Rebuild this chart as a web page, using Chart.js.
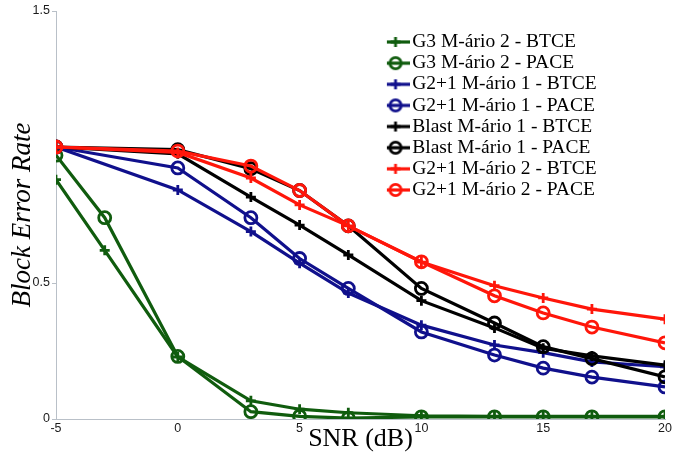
<!DOCTYPE html>
<html>
<head>
<meta charset="utf-8">
<script src="https://cdn.jsdelivr.net/npm/chart.js@4/dist/chart.umd.min.js"></script>
<style>
  html, body { margin: 0; padding: 0; background: #ffffff; }
  #wrap { width: 676px; height: 459px; }
</style>
</head>
<body>
<div id="wrap"><canvas id="c" width="676" height="459"></canvas></div>
<script>
// ---- Data ----
const snrG3 = [-5, -3, 0, 3, 5, 7, 10, 13, 15, 17, 20];
const snrOther = [-5, 0, 3, 5, 7, 10, 13, 15, 17, 20];

const g3M2Btce   = [0.88, 0.62, 0.228, 0.067, 0.036, 0.023, 0.012, 0.010, 0.010, 0.010, 0.010];
const g3M2Pace   = [0.97, 0.74, 0.230, 0.027, 0.010, 0.003, 0.008, 0.008, 0.008, 0.008, 0.008];
const g21M1Btce  = [1.0, 0.842, 0.689, 0.573, 0.463, 0.345, 0.272, 0.244, 0.210, 0.192];
const g21M1Pace  = [1.0, 0.923, 0.740, 0.590, 0.480, 0.320, 0.235, 0.187, 0.154, 0.118];
const blastM1Btce = [1.0, 0.975, 0.816, 0.713, 0.603, 0.435, 0.335, 0.260, 0.232, 0.198];
const blastM1Pace = [1.0, 0.990, 0.920, 0.840, 0.710, 0.480, 0.353, 0.266, 0.222, 0.155];
const g21M2Btce  = [1.0, 0.980, 0.886, 0.787, 0.710, 0.577, 0.490, 0.445, 0.404, 0.367];
const g21M2Pace  = [1.0, 0.985, 0.930, 0.840, 0.710, 0.578, 0.453, 0.390, 0.338, 0.280];

const seriesNames = [
  'G3 M-ário 2 - BTCE',
  'G3 M-ário 2 - PACE',
  'G2+1 M-ário 1 - BTCE',
  'G2+1 M-ário 1 - PACE',
  'Blast M-ário 1 - BTCE',
  'Blast M-ário 1 - PACE',
  'G2+1 M-ário 2 - BTCE',
  'G2+1 M-ário 2 - PACE'
];
const xTicks = [-5, 0, 5, 10, 15, 20];
const yTicks = [0, 0.5, 1.5];

// ---- Styling ----
const GREEN = 'rgb(16,92,14)';
const BLUE = 'rgb(16,16,140)';
const BLACK = 'rgb(0,0,0)';
const RED = 'rgb(255,22,10)';

const seriesX = [snrG3, snrG3, snrOther, snrOther, snrOther, snrOther, snrOther, snrOther];
const seriesY = [g3M2Btce, g3M2Pace, g21M1Btce, g21M1Pace, blastM1Btce, blastM1Pace, g21M2Btce, g21M2Pace];
const seriesColor = [GREEN, GREEN, BLUE, BLUE, BLACK, BLACK, RED, RED];
const seriesMarker = ['cross', 'circle', 'cross', 'circle', 'cross', 'circle', 'cross', 'circle'];

function makeIcon(color, marker) {
  const c = document.createElement('canvas');
  c.width = 28; c.height = 16;
  const g = c.getContext('2d');
  g.strokeStyle = color;
  g.lineWidth = 3.2;
  g.beginPath(); g.moveTo(0, 8); g.lineTo(28, 8); g.stroke();
  if (marker === 'circle') {
    g.lineWidth = 2.8;
    g.beginPath(); g.arc(14, 8, 5.6, 0, Math.PI * 2); g.stroke();
  } else {
    g.lineWidth = 2.8;
    g.beginPath();
    g.moveTo(14, 3); g.lineTo(14, 13);
    g.moveTo(9, 8); g.lineTo(19, 8);
    g.stroke();
  }
  return c;
}

const datasets = seriesNames.map((name, i) => ({
  label: name,
  data: seriesX[i].map((x, k) => ({ x: x, y: seriesY[i][k] })),
  borderColor: seriesColor[i],
  backgroundColor: 'rgba(255,255,255,0)',
  borderWidth: 3.2,
  pointStyle: seriesMarker[i],
  pointRadius: seriesMarker[i] === 'circle' ? 6 : 5,
  pointBorderWidth: 2.8,
  pointBorderColor: seriesColor[i],
  pointBackgroundColor: 'rgba(255,255,255,0)',
  fill: false,
  tension: 0,
  order: seriesNames.length - 1 - i
}));

const legendPlacer = {
  id: 'legendPlacer',
  afterLayout(chart) {
    const lg = chart.legend;
    if (!lg) return;
    const w = lg.width, h = lg.height;
    lg.left = 386.9;
    lg.top = 30.6;
    lg.right = lg.left + w;
    lg.bottom = lg.top + h;
  }
};

new Chart(document.getElementById('c'), {
  type: 'line',
  data: { datasets: datasets },
  plugins: [legendPlacer],
  options: {
    responsive: false,
    animation: false,
    events: [],
    layout: { padding: { top: 11, right: 11, left: 0, bottom: 0 } },
    plugins: {
      tooltip: { enabled: false },
      title: { display: false },
      legend: {
        display: true,
        position: 'chartArea',
        align: 'start',
        labels: {
          usePointStyle: true,
          pointStyleWidth: 14,
          padding: 1.64,
          color: '#000000',
          font: { family: '"Liberation Serif", "Times New Roman", serif', size: 19.5 },
          generateLabels(chart) {
            return seriesNames.map((name, i) => ({
              text: name,
              datasetIndex: i,
              pointStyle: makeIcon(seriesColor[i], seriesMarker[i]),
              fillStyle: seriesColor[i],
              strokeStyle: seriesColor[i],
              lineWidth: 0,
              hidden: false
            }));
          }
        }
      }
    },
    scales: {
      x: {
        type: 'linear',
        min: -5,
        max: 20,
        afterBuildTicks(scale) { scale.ticks = xTicks.map(v => ({ value: v })); },
        afterFit(scale) { scale.height = 40; },
        border: { display: true, color: '#b9c0c8', width: 1 },
        grid: { display: true, drawOnChartArea: false, drawTicks: false, color: '#b9c0c8' },
        ticks: {
          padding: 2,
          color: '#1a1a1a',
          maxRotation: 0,
          font: { family: '"Liberation Sans", Arial, sans-serif', size: 12.5 }
        },
        title: {
          display: true,
          text: 'SNR (dB)',
          color: '#000000',
          padding: { top: 0, bottom: 4 },
          font: { family: '"Liberation Serif", "Times New Roman", serif', size: 26 }
        }
      },
      y: {
        type: 'linear',
        min: 0,
        max: 1.5,
        afterBuildTicks(scale) { scale.ticks = yTicks.map(v => ({ value: v })); },
        afterFit(scale) { scale.width = 56; },
        border: { display: true, color: '#b9c0c8', width: 1 },
        grid: { display: true, drawOnChartArea: false, drawTicks: true, tickLength: 4, color: '#b9c0c8' },
        ticks: {
          padding: 2,
          color: '#1a1a1a',
          font: { family: '"Liberation Sans", Arial, sans-serif', size: 12.5 }
        },
        title: {
          display: true,
          text: 'Block Error Rate',
          color: '#000000',
          padding: { top: 7, bottom: 0 },
          font: { family: '"Liberation Serif", "Times New Roman", serif', size: 27, style: 'italic' }
        }
      }
    }
  }
});
</script>
</body>
</html>
